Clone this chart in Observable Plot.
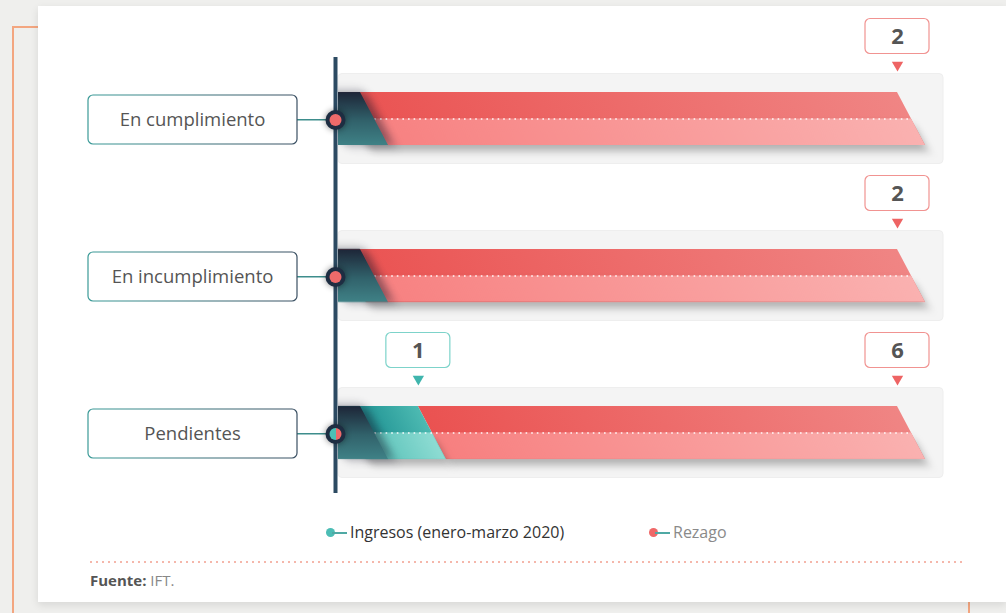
<!DOCTYPE html>
<html><head><meta charset="utf-8">
<script src="https://cdn.jsdelivr.net/npm/d3@7"></script>
<script src="https://cdn.jsdelivr.net/npm/@observablehq/plot@0.6"></script>
<style>
body{margin:0;width:1006px;height:613px;overflow:hidden;background:#efefed;font-family:"Open Sans",sans-serif;position:relative}
#frame{position:absolute;left:12px;top:26px;width:958px;height:640px;border:2px solid #f3a680;box-sizing:border-box}
#card{position:absolute;left:38px;top:6px;width:968px;height:596px;background:#fff;box-shadow:0 3px 8px rgba(0,0,0,0.10)}
#chart{position:absolute;left:0;top:0}
.seg rect, rect[aria-label="seg"], .dark rect, rect[aria-label="dark"]{transform-box:fill-box;transform-origin:0 0;transform:skewX(27.85deg)}
.segLow rect, rect[aria-label="segLow"]{transform-box:fill-box;transform-origin:0 0;transform:translateX(14px) skewX(27.85deg);filter:drop-shadow(0 6px 4px rgba(0,0,0,0.28))}
.dark rect, rect[aria-label="dark"]{filter:drop-shadow(6px 0 5px rgba(20,20,40,0.45))}
.marker circle, circle[aria-label="marker"]{filter:drop-shadow(0 0 3px rgba(0,0,0,0.45))}
#legend{position:absolute;top:521px;left:0;width:1006px;height:22px;font-size:16px}
.lg{position:absolute;top:0;height:22px;line-height:22px;white-space:nowrap}
.lg .dot{position:absolute;top:7px;left:0;width:9px;height:9px;border-radius:50%}
.lg .ln{position:absolute;top:11px;left:6px;width:15px;height:1.5px;background:#4fa9a4}
.lg span.t{position:absolute;left:24px;top:0}
#rule{position:absolute;left:88px;top:561px;width:878px;height:2px;background-image:radial-gradient(circle,#f5b7ab 0.9px,transparent 1.1px);background-size:6px 2px}
#fuente{position:absolute;left:90px;top:570px;font-size:15px;color:#888}
#fuente b{color:#555;font-weight:700}
</style></head>
<body>
<svg width="0" height="0" style="position:absolute">
<defs>
<linearGradient id="gRedTop" x1="0" x2="1" y1="0" y2="0"><stop offset="0" stop-color="#ea5251"/><stop offset="1" stop-color="#f08584"/></linearGradient>
<linearGradient id="gRedLow" x1="0" x2="1" y1="0" y2="0"><stop offset="0" stop-color="#f77f7f"/><stop offset="1" stop-color="#fab1b0"/></linearGradient>
<linearGradient id="gTealTop" x1="0" x2="1" y1="0" y2="0"><stop offset="0" stop-color="#12878a"/><stop offset="1" stop-color="#4dbab2"/></linearGradient>
<linearGradient id="gTealLow" x1="0" x2="1" y1="0" y2="0"><stop offset="0" stop-color="#4fbcb3"/><stop offset="1" stop-color="#8edcd3"/></linearGradient>
<linearGradient id="gDark" x1="0" x2="0" y1="0" y2="1"><stop offset="0" stop-color="#1d2537"/><stop offset="0.55" stop-color="#31626b"/><stop offset="1" stop-color="#3f8186"/></linearGradient>
<linearGradient id="gHalf" x1="0" x2="1" y1="0" y2="0"><stop offset="0.5" stop-color="#4cc0b6"/><stop offset="0.5" stop-color="#ef6a6a"/></linearGradient>
<linearGradient id="gBox" x1="0" x2="1" y1="0" y2="0"><stop offset="0" stop-color="#3a9a97"/><stop offset="1" stop-color="#3a4f62"/></linearGradient>
</defs></svg>
<div id="frame"></div>
<div id="card"></div>
<div id="chart"></div>
<div id="legend">
  <div class="lg" style="left:326px"><div class="dot" style="background:#4cbdb5"></div><div class="ln"></div><span class="t" style="color:#333">Ingresos (enero-marzo 2020)</span></div>
  <div class="lg" style="left:649px"><div class="dot" style="background:#ef6868"></div><div class="ln"></div><span class="t" style="color:#8a8a8a">Rezago</span></div>
</div>
<div id="rule"></div>
<div id="fuente"><b>Fuente:</b> IFT.</div>
<script>
const categorias = ["En cumplimiento", "En incumplimiento", "Pendientes"];
const ingresos = [0, 0, 1];
const rezago = [2, 2, 6];

const filas = categorias.map((cat, i) => ({
  cat, ing: ingresos[i], rez: rezago[i], total: ingresos[i] + rezago[i],
  mix: ingresos[i] > 0 && rezago[i] > 0
}));
const segs = [];
filas.forEach(f => {
  segs.push({cat: f.cat, serie: "Ingresos", value: f.ing, x1: 0, x2: f.ing / f.total});
  segs.push({cat: f.cat, serie: "Rezago", value: f.rez, x1: f.ing / f.total, x2: 1});
});
const isIng = d => d.serie === "Ingresos" && d.value > 0;
const isRez = d => d.serie === "Rezago" && d.value > 0;
const ff = "'Open Sans', sans-serif";
const tag = name => ({className: name, ariaLabel: () => name});

const chart = Plot.plot({
  width: 1006, height: 613,
  marginLeft: 338, marginRight: 109, marginTop: 57, marginBottom: 120,
  style: {background: "transparent", fontFamily: ff, overflow: "visible"},
  x: {domain: [0, 1], axis: null},
  y: {domain: categorias, range: [39.5, 510.5], padding: 0, axis: null},
  marks: [
    Plot.barX(filas, {y: "cat", x1: 0, x2: 1, insetRight: -46, insetTop: 33.5, insetBottom: 33.5, fill: "#f4f4f4", stroke: "#eeeeee", rx: 4}),
    Plot.barX(segs, {filter: isRez, y: "cat", x1: "x1", x2: "x2", insetTop: 52, insetBottom: 52, fill: "url(#gRedTop)", ...tag("seg")}),
    Plot.barX(segs, {filter: isIng, y: "cat", x1: "x1", x2: "x2", insetTop: 52, insetBottom: 52, fill: "url(#gTealTop)", ...tag("seg")}),
    Plot.barX(segs, {filter: isRez, y: "cat", x1: "x1", x2: "x2", insetTop: 78.5, insetBottom: 52, fill: "url(#gRedLow)", ...tag("segLow")}),
    Plot.barX(segs, {filter: isIng, y: "cat", x1: "x1", x2: "x2", insetTop: 78.5, insetBottom: 52, fill: "url(#gTealLow)", ...tag("segLow")}),
    Plot.ruleY(filas, {y: "cat", x1: 0, x2: 1, dx: 14, stroke: "#ffffff", strokeWidth: 1.6, strokeDasharray: "1.6,4", strokeOpacity: 0.95}),
    Plot.barX(filas, {y: "cat", x1: 0, x2: 0, insetLeft: -28, insetRight: -22, insetTop: 52, insetBottom: 52, fill: "url(#gDark)", clip: true, ...tag("dark")}),
    Plot.ruleX([0], {stroke: "#2c4a62", strokeWidth: 4, dx: -3}),
    Plot.barX(filas, {y: "cat", x1: 0, x2: 0, insetLeft: -41, insetRight: 3, insetTop: 79, insetBottom: 76.5, fill: "#3d8d8c"}),
    Plot.barX(filas, {y: "cat", x1: 0, x2: 0, insetLeft: -250, insetRight: 41, insetTop: 55, insetBottom: 53, fill: "#ffffff", stroke: "url(#gBox)", strokeWidth: 1.2, rx: 5}),
    Plot.text(filas, {y: "cat", x: 0, text: "cat", dx: -146, dy: 1, fontSize: 18.5, fill: "#555555", fontFamily: ff, letterSpacing: "0.4px"}),
    Plot.dot(filas, {y: "cat", x: 0, dx: -3, dy: 1, r: 10, fill: "#1e2d42", ...tag("marker")}),
    Plot.dot(filas, {filter: d => !d.mix, y: "cat", x: 0, dx: -3, dy: 1, r: 6, fill: "#ee6a6a"}),
    Plot.dot(filas, {filter: d => d.mix, y: "cat", x: 0, dx: -3, dy: 1, r: 6, fill: "url(#gHalf)"}),
    Plot.barX(segs, {filter: isRez, y: "cat", x1: "x2", x2: "x2", insetLeft: -32, insetRight: -32, insetTop: -21.5, insetBottom: 143.5, fill: "#ffffff", stroke: "#f19391", strokeWidth: 1.2, rx: 5}),
    Plot.barX(segs, {filter: isIng, y: "cat", x1: "x2", x2: "x2", insetLeft: -32, insetRight: -32, insetTop: -21.5, insetBottom: 143.5, fill: "#ffffff", stroke: "#7dd3ca", strokeWidth: 1.2, rx: 5}),
    Plot.dot(segs, {filter: isRez, y: "cat", x: "x2", dy: -54, symbol: "triangle", rotate: 180, r: 4.2, fill: "#ee6464"}),
    Plot.dot(segs, {filter: isIng, y: "cat", x: "x2", dy: -54, symbol: "triangle", rotate: 180, r: 4.2, fill: "#3fb5ad"}),
    Plot.text(segs, {filter: d => d.value > 0, y: "cat", x: "x2", text: "value", dy: -82.5, fontSize: 22, fontWeight: 700, fill: "#555555", fontFamily: ff})
  ]
});
document.getElementById("chart").appendChild(chart);
</script>
</body></html>
